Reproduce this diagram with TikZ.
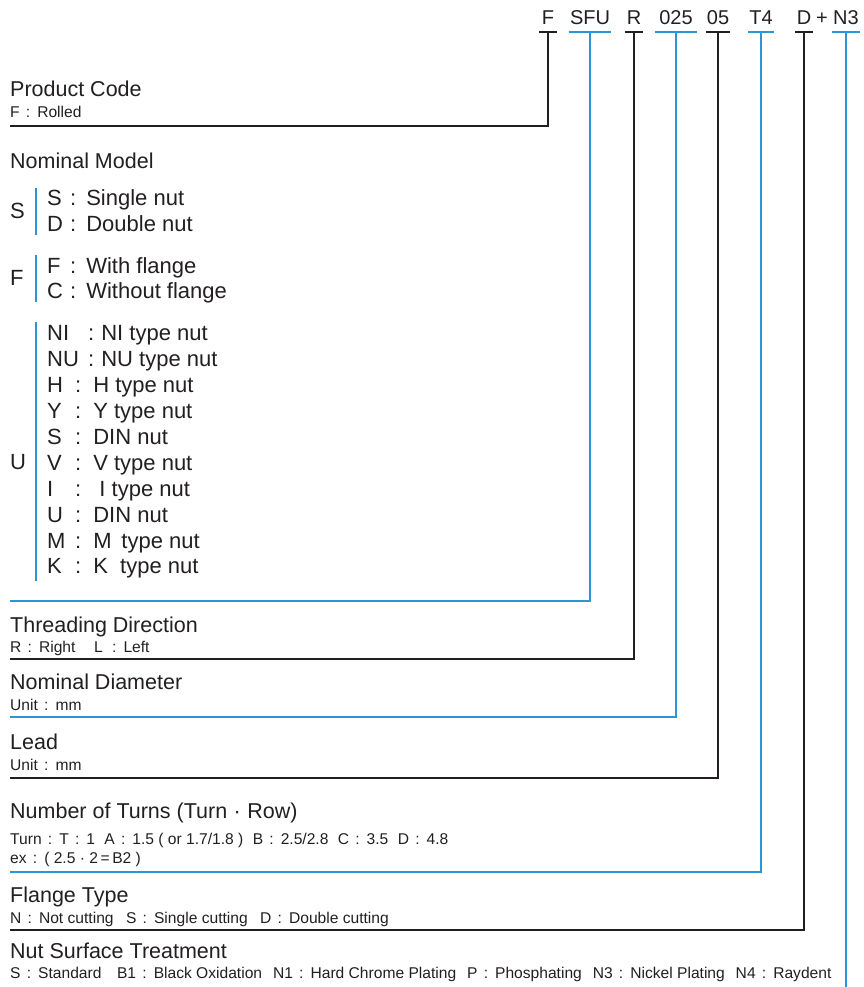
\documentclass[tikz,border=0pt]{standalone}
\usepackage{fontspec}
\setmainfont{Liberation Sans}
\usetikzlibrary{positioning}
\definecolor{codeblue}{RGB}{40,150,215}
\definecolor{inkblack}{RGB}{35,31,32}
\newcommand{\cl}{\hspace{.4em}:\hspace{.45em}}
\newcommand{\opt}[4]{\makebox[#1][l]{#2}:\hspace{#3}#4}

\begin{document}
\begin{tikzpicture}[
  x=1pt, y=-1pt,
  code/.style={font=\fontsize{20}{24}\selectfont, text=inkblack, inner xsep=1pt, inner ysep=3.5pt, text depth=3.5pt, minimum width=18pt, anchor=base},
  head/.style={font=\fontsize{21.5}{25}\selectfont, text=inkblack, inner sep=0pt, anchor=base west},
  note/.style={font=\fontsize{15.6}{18}\selectfont, text=inkblack, inner sep=0pt, anchor=base west},
  item/.style={font=\fontsize{22}{26}\selectfont, text=inkblack, inner sep=0pt, anchor=base west},
  blk/.style={draw=inkblack, line width=2.5pt},
  blu/.style={draw=codeblue, line width=2.4pt},
  bar/.style={draw=codeblue, line width=2pt}
]
\useasboundingbox (0,0) rectangle (863,987);

% code letters along the top
\node[code] (cF) at (548,25) {F};
\node[code] (cSFU) at (590,25) {SFU};
\node[code] (cR) at (634,25) {R};
\node[code, minimum width=42pt] (c025) at (676,25) {025};
\node[code] (c05) at (718,25) {05};
\node[code] (cT4) at (761,25) {T4};
\node[code] (cD) at (804,25) {D};
\node[code, minimum width=0pt] (plus) at (822,25) {+};
\node[code] (cN3) at (846,25) {N3};

\foreach \c in {cF, cR, c05, cD}
  \draw[blk] (\c.south west) -- (\c.south east);
\foreach \c in {cSFU, c025, cT4, cN3}
  \draw[blu] (\c.south west) -- (\c.south east);

% line ends on the left
\coordinate (eF) at (10,126);
\coordinate (eSFU) at (10,601);
\coordinate (eR) at (10,659);
\coordinate (e025) at (10,717);
\coordinate (e05) at (10,778);
\coordinate (eT4) at (10,872);
\coordinate (eD) at (10,930);
\coordinate (eN3) at (846,987);

% Product Code
\node[head] (hF) at (10,97) {Product Code};
\node[note] (nF) at (10,118) {F\cl Rolled};

% Nominal Model
\node[head] (hSFU) at (10,168) {Nominal Model};
\node[item, anchor=west] (gS) at (10,211) {S};
\draw[bar] (36,188) -- (36,235);
\node[item] (sS) at (47,205) {\opt{23pt}{S}{10pt}{Single nut}};
\node[item] (sD) at (47,231) {\opt{23pt}{D}{10pt}{Double nut}};

\node[item, anchor=west] (gF) at (10,278) {F};
\draw[bar] (36,255) -- (36,302);
\node[item] (fF) at (47,273) {\opt{23pt}{F}{10pt}{With flange}};
\node[item] (fC) at (47,298) {\opt{23pt}{C}{10pt}{Without flange}};

\node[item, anchor=west] (gU) at (10,462) {U};
\draw[bar] (36,322) -- (36,581);
\node[item] (uNI) at (47,340) {\opt{41pt}{NI}{7pt}{NI type nut}};
\node[item] (uNU) at (47,366) {\opt{41pt}{NU}{7pt}{NU type nut}};
\foreach \y/\k/\t in {392/H/H type nut, 418/Y/Y type nut, 444/S/DIN nut, 470/V/V type nut,
  496/I/\ I type nut, 522/U/DIN nut, 548/M/M\ \,type nut, 573/K/K\ \ type nut}
  \node[item] (u\k) at (47,\y) {\opt{28pt}{\k}{12pt}{\t}};

% Threading Direction
\node[head] (hR) at (10,632) {Threading Direction};
\node[note] (nR) at (10,652) {R\cl Right\hspace{1.2em}L\hspace{.2em}\cl Left};

% Nominal Diameter
\node[head] (h025) at (10,689) {Nominal Diameter};
\node[note] (n025) at (10,710) {Unit\cl mm};

% Lead
\node[head] (h05) at (10,749) {Lead};
\node[note] (n05) at (10,770) {Unit\cl mm};

% Number of Turns
\node[head] (hT4) at (10,818) {Number of Turns (Turn\hspace{.3em}·\hspace{.3em}Row)};
\node[note] (nT4) at (10,844) {Turn\cl T\cl 1\hspace{.6em}A\cl 1.5 ( or 1.7/1.8 )\hspace{.6em}B\cl 2.5/2.8\hspace{.6em}C\cl 3.5\hspace{.6em}D\cl 4.8};
\node[note] (xT4) at (10,863) {ex\cl ( 2.5 · 2\,=\,B2 )};

% Flange Type
\node[head] (hD) at (10,902) {Flange Type};
\node[note] (nD) at (10,923) {N\cl Not cutting\hspace{.8em}S\cl Single cutting\hspace{.8em}D\cl Double cutting};

% Nut Surface Treatment
\node[head] (hN3) at (10,958) {Nut Surface Treatment};
\node[note] (nN3) at (10,978) {S\cl Standard\hspace{1em}B1\cl Black Oxidation\hspace{.7em}N1\cl Hard Chrome Plating\hspace{.7em}P\cl Phosphating\hspace{.7em}N3\cl Nickel Plating\hspace{.7em}N4\cl Raydent};

% connectors
\draw[blk] (cF.south) |- (eF);
\draw[blu] (cSFU.south) |- (eSFU);
\draw[blk] (cR.south) |- (eR);
\draw[blu] (c025.south) |- (e025);
\draw[blk] (c05.south) |- (e05);
\draw[blu] (cT4.south) |- (eT4);
\draw[blk] (cD.south) |- (eD);
\draw[blu] (cN3.south) -- (eN3);
\end{tikzpicture}
\end{document}
